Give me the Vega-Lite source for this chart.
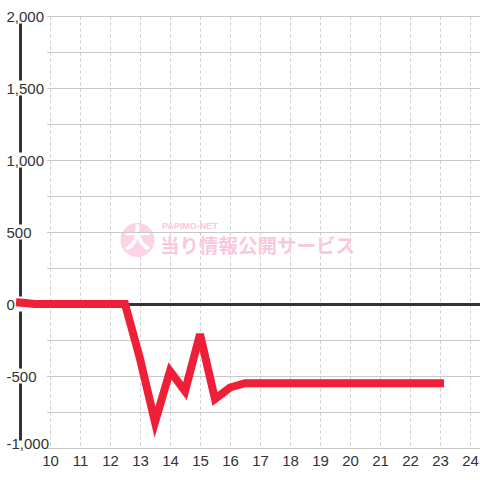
{
  "$schema": "https://vega.github.io/schema/vega-lite/v6.json",
  "width": 460,
  "height": 432,
  "autosize": "none",
  "padding": {"left": 20, "top": 16, "right": 0, "bottom": 32},
  "background": "white",
  "config": {
    "view": {"stroke": null},
    "font": "Liberation Sans",
    "axisX": {
      "title": null, "grid": true, "gridDash": [3, 3], "gridColor": "#cccccc", "gridWidth": 1,
      "domain": false, "ticks": false, "labelPadding": 5, "labelFontSize": 15, "labelColor": "#333333",
      "labelFont": "Liberation Sans", "labelFlush": false, "labelOverlap": false, "labelSeparation": 0
    },
    "axisY": {
      "title": null, "grid": false, "domain": false, "ticks": false, "tickSize": 0,
      "labelPadding": 14, "labelAlign": "left", "labelBaseline": "middle",
      "labelFontSize": 15, "labelColor": "#333333", "labelFont": "Liberation Sans",
      "labelFlush": false, "labelOverlap": false
    }
  },
  "datasets": {
    "series": [
      {"hour": 9, "value": 10}, {"hour": 9.5, "value": 0}, {"hour": 10, "value": 0}, {"hour": 10.5, "value": 0},
      {"hour": 11, "value": 0}, {"hour": 11.5, "value": 0}, {"hour": 12, "value": 0}, {"hour": 12.5, "value": 0},
      {"hour": 13, "value": -380}, {"hour": 13.5, "value": -820}, {"hour": 14, "value": -465}, {"hour": 14.5, "value": -605},
      {"hour": 15, "value": -210}, {"hour": 15.5, "value": -660}, {"hour": 16, "value": -580}, {"hour": 16.5, "value": -550},
      {"hour": 17, "value": -550}, {"hour": 17.5, "value": -550}, {"hour": 18, "value": -550}, {"hour": 18.5, "value": -550},
      {"hour": 19, "value": -550}, {"hour": 19.5, "value": -550}, {"hour": 20, "value": -550}, {"hour": 20.5, "value": -550},
      {"hour": 21, "value": -550}, {"hour": 21.5, "value": -550}, {"hour": 22, "value": -550}, {"hour": 22.5, "value": -550},
      {"hour": 23, "value": -550}
    ],
    "grid": [
      {"v": -1000}, {"v": -750}, {"v": -500}, {"v": -250}, {"v": 0}, {"v": 250}, {"v": 500},
      {"v": 750}, {"v": 1000}, {"v": 1250}, {"v": 1500}, {"v": 1750}, {"v": 2000}
    ],
    "ticks": [
      {"v": -1000}, {"v": -500}, {"v": 0}, {"v": 500}, {"v": 1000}, {"v": 1500}, {"v": 2000}
    ]
  },
  "layer": [
    {
      "data": {"values": [{"k": 1}]},
      "mark": {"type": "point", "shape": "circle", "filled": true, "size": 1156, "color": "#fbd3e5", "opacity": 1, "strokeWidth": 0},
      "encoding": {
        "x": {"datum": 12.917, "scale": {"domain": [9, 24.333], "nice": false, "zero": false},
          "axis": {"values": [10, 11, 12, 13, 14, 15, 16, 17, 18, 19, 20, 21, 22, 23, 24], "labelOverlap": false, "title": null}},
        "y": {"datum": 444, "scale": {"domain": [-1000, 2000], "nice": false, "zero": false}}
      }
    },
    {
      "data": {"values": [{"t": "大"}]},
      "mark": {"type": "text", "font": "Noto Sans CJK JP", "fontWeight": "bold", "fontSize": 27, "color": "white", "align": "center", "baseline": "middle"},
      "encoding": {
        "x": {"datum": 12.917, "scale": {"domain": [9, 24.333], "nice": false, "zero": false},
          "axis": {"values": [10, 11, 12, 13, 14, 15, 16, 17, 18, 19, 20, 21, 22, 23, 24], "labelOverlap": false, "title": null}},
        "y": {"datum": 444, "scale": {"domain": [-1000, 2000], "nice": false, "zero": false}},
        "text": {"field": "t"}
      }
    },
    {
      "data": {"values": [{"t": "当り情報公開サービス"}]},
      "mark": {"type": "text", "font": "Noto Sans CJK JP", "fontWeight": "bold", "fontSize": 19.5, "color": "#f9c8dc", "align": "left", "baseline": "middle"},
      "encoding": {
        "x": {"datum": 13.667, "scale": {"domain": [9, 24.333], "nice": false, "zero": false},
          "axis": {"values": [10, 11, 12, 13, 14, 15, 16, 17, 18, 19, 20, 21, 22, 23, 24], "labelOverlap": false, "title": null}},
        "y": {"datum": 398, "scale": {"domain": [-1000, 2000], "nice": false, "zero": false}},
        "text": {"field": "t"}
      }
    },
    {
      "data": {"values": [{"t": "PAPIMO-NET"}]},
      "mark": {"type": "text", "font": "Liberation Sans", "fontWeight": "bold", "fontSize": 9, "color": "#f9c8dc", "align": "left", "baseline": "middle"},
      "encoding": {
        "x": {"datum": 13.733, "scale": {"domain": [9, 24.333], "nice": false, "zero": false},
          "axis": {"values": [10, 11, 12, 13, 14, 15, 16, 17, 18, 19, 20, 21, 22, 23, 24], "labelOverlap": false, "title": null}},
        "y": {"datum": 545, "scale": {"domain": [-1000, 2000], "nice": false, "zero": false}},
        "text": {"field": "t"}
      }
    },
    {
      "data": {"name": "grid"},
      "mark": {"type": "rule", "color": "#c8c8c8", "strokeWidth": 1, "yOffset": 0.5},
      "encoding": {
        "x": {"datum": 9.9, "scale": {"domain": [9, 24.333], "nice": false, "zero": false},
          "axis": {"values": [10, 11, 12, 13, 14, 15, 16, 17, 18, 19, 20, 21, 22, 23, 24], "labelOverlap": false, "title": null}},
        "x2": {"datum": 24.333},
        "y": {"field": "v", "type": "quantitative", "scale": {"domain": [-1000, 2000], "nice": false, "zero": false}}
      }
    },
    {
      "data": {"values": [{"k": 1}]},
      "mark": {"type": "rule", "color": "#333333", "strokeWidth": 3, "xOffset": 0.5},
      "encoding": {
        "x": {"datum": 9, "scale": {"domain": [9, 24.333], "nice": false, "zero": false},
          "axis": {"values": [10, 11, 12, 13, 14, 15, 16, 17, 18, 19, 20, 21, 22, 23, 24], "labelOverlap": false, "title": null}},
        "y": {"datum": -1000, "scale": {"domain": [-1000, 2000], "nice": false, "zero": false}},
        "y2": {"datum": 2000}
      }
    },
    {
      "data": {"name": "ticks"},
      "mark": {"type": "point", "shape": "M-2,-0.375H0V0.375H-2Z", "filled": true, "size": 1600, "color": "white", "opacity": 1, "strokeWidth": 0},
      "encoding": {
        "x": {"datum": 9.8, "scale": {"domain": [9, 24.333], "nice": false, "zero": false},
          "axis": {"values": [10, 11, 12, 13, 14, 15, 16, 17, 18, 19, 20, 21, 22, 23, 24], "labelOverlap": false, "title": null}},
        "y": {"field": "v", "type": "quantitative", "scale": {"domain": [-1000, 2000], "nice": false, "zero": false}}
      }
    },
    {
      "data": {"values": [{"k": 1}]},
      "mark": {"type": "rule", "color": "#333333", "strokeWidth": 3, "yOffset": 0.5},
      "encoding": {
        "x": {"datum": 9.9, "scale": {"domain": [9, 24.333], "nice": false, "zero": false},
          "axis": {"values": [10, 11, 12, 13, 14, 15, 16, 17, 18, 19, 20, 21, 22, 23, 24], "labelOverlap": false, "title": null}},
        "x2": {"datum": 24.333},
        "y": {"datum": 0, "scale": {"domain": [-1000, 2000], "nice": false, "zero": false}}
      }
    },
    {
      "data": {"name": "series"},
      "mark": {"type": "line", "color": "#ee1f36", "strokeWidth": 8, "strokeCap": "square", "strokeJoin": "miter"},
      "encoding": {
        "x": {
          "field": "hour", "type": "quantitative",
          "scale": {"domain": [9, 24.333], "nice": false, "zero": false},
          "axis": {"values": [10, 11, 12, 13, 14, 15, 16, 17, 18, 19, 20, 21, 22, 23, 24], "labelOverlap": false, "title": null}
        },
        "y": {
          "field": "value", "type": "quantitative",
          "scale": {"domain": [-1000, 2000], "nice": false, "zero": false},
          "axis": {
            "values": [-1000, -500, 0, 500, 1000, 1500, 2000],
            "title": null, "grid": false, "domain": false, "ticks": false,
            "labelPadding": 14, "labelAlign": "left",
            "labelBaseline": {"condition": {"test": "datum.value == -1000", "value": "alphabetic"}, "value": "middle"},
            "labelExpr": "replace(format(datum.value, ','), '−', '-')",
            "labelFontSize": 15, "labelFlush": false, "labelOverlap": false, "zindex": 1
          }
        }
      }
    }
  ]
}
